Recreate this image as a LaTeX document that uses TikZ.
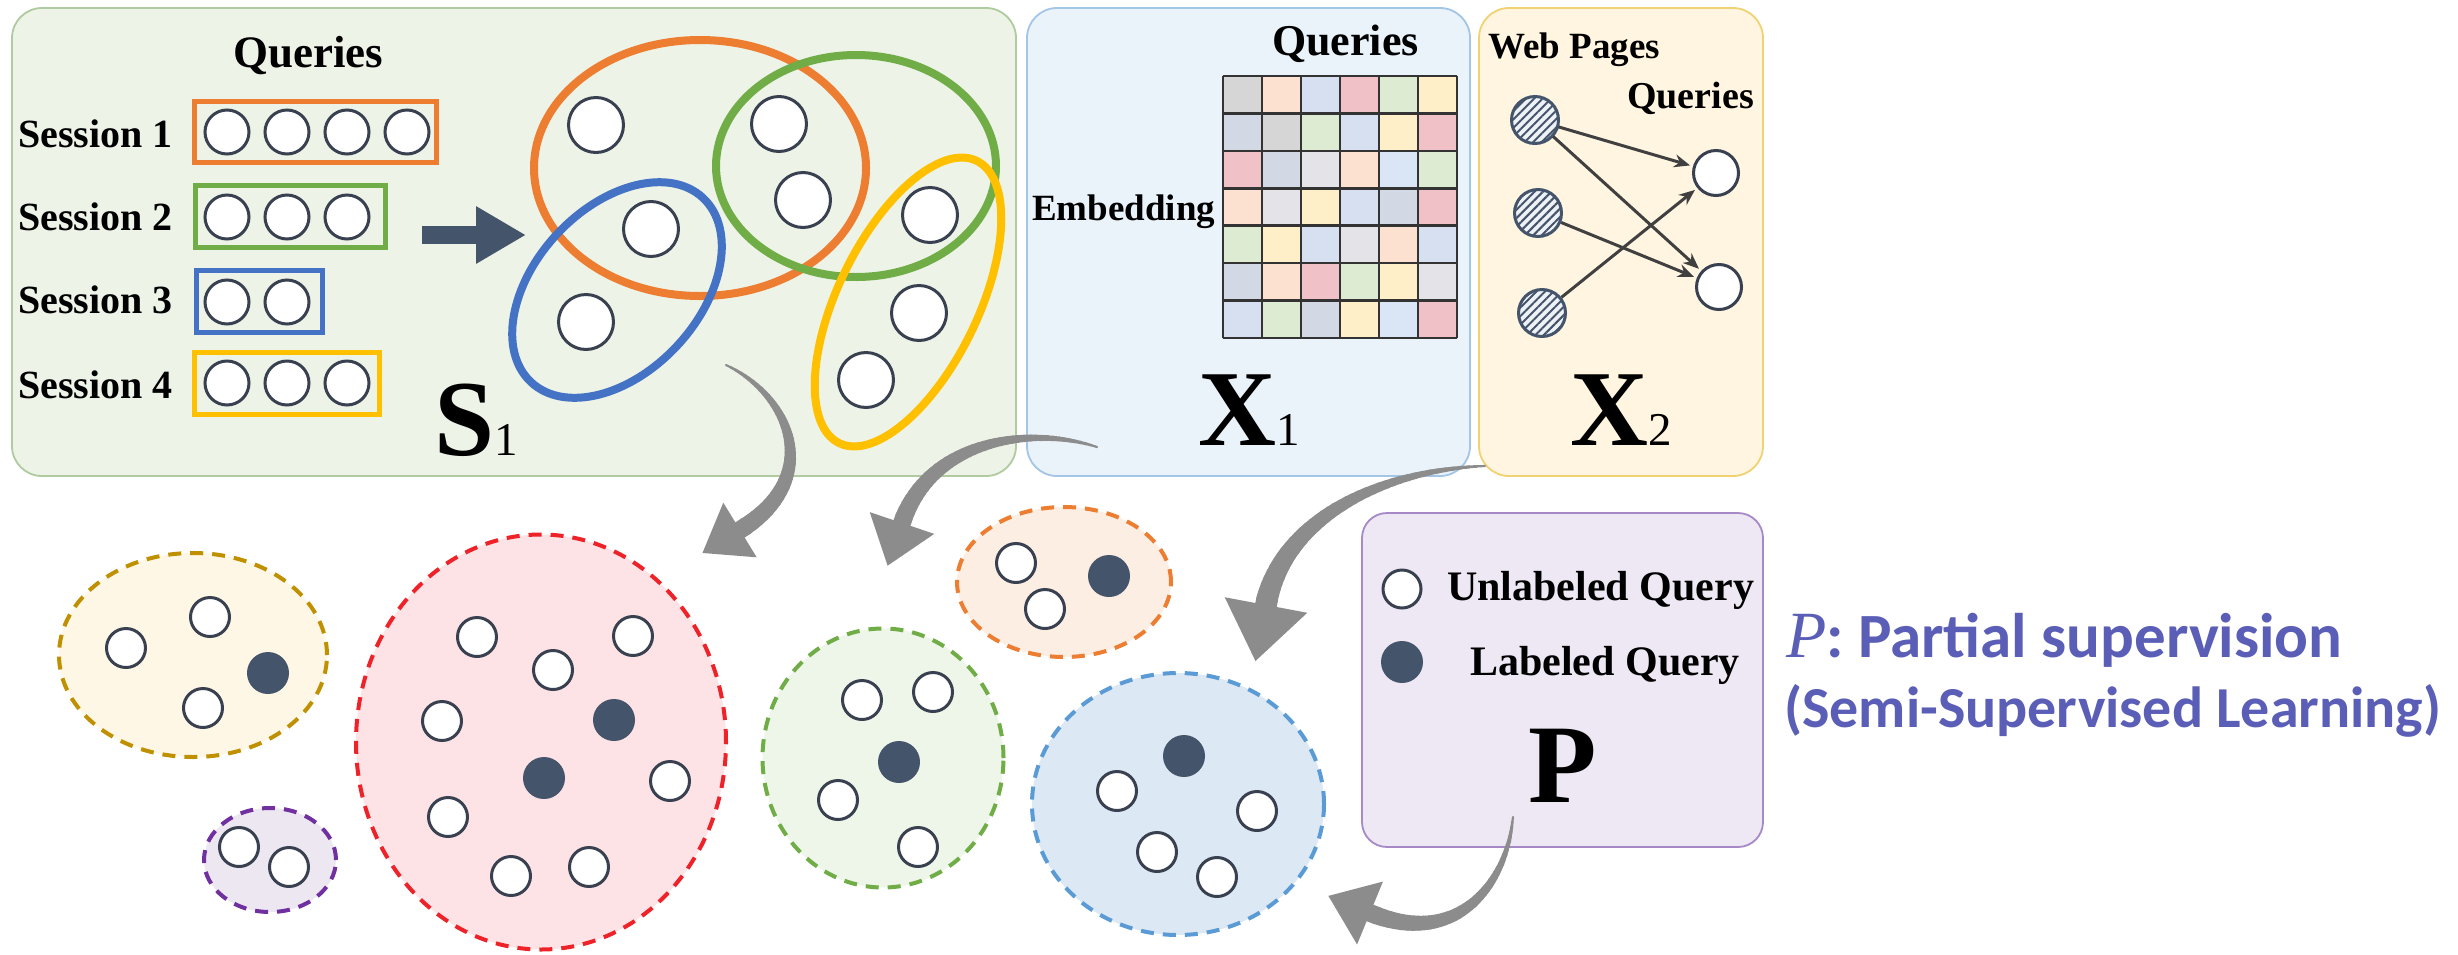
\documentclass[tikz,border=0pt]{standalone}
\usepackage{fontspec}
\newfontfamily\tms{Liberation Serif}
\newfontfamily\carl{Carlito}
\usetikzlibrary{calc,shapes.geometric,patterns.meta,arrows.meta}

\definecolor{qline}{HTML}{394150}
\definecolor{qdark}{HTML}{44546A}
\definecolor{arrowgray}{HTML}{8C8C8C}
\definecolor{linkgray}{HTML}{404040}
\definecolor{hatchbg}{HTML}{EEF1F6}
\definecolor{noteblue}{HTML}{5A5EB6}
% session / overlap colours
\definecolor{sOrange}{HTML}{ED7D31}
\definecolor{sGreen}{HTML}{70AD47}
\definecolor{sBlue}{HTML}{4472C4}
\definecolor{sYellow}{HTML}{FFC000}
% panels
\definecolor{sFill}{HTML}{EEF3E8}
\definecolor{sLine}{HTML}{AFCB9F}
\definecolor{xaFill}{HTML}{EAF2FA}
\definecolor{xaLine}{HTML}{A3C5E6}
\definecolor{xbFill}{HTML}{FFF5E1}
\definecolor{xbLine}{HTML}{F0D272}
\definecolor{pFill}{HTML}{EEE7F4}
\definecolor{pLine}{HTML}{A689C6}
% clusters
\definecolor{kOlive}{HTML}{BF9000}
\definecolor{kOliveF}{HTML}{FFF7E5}
\definecolor{kPurple}{HTML}{7030A0}
\definecolor{kPurpleF}{HTML}{ECE7F1}
\definecolor{kRed}{HTML}{EE2229}
\definecolor{kRedF}{HTML}{FDE3E5}
\definecolor{kGreen}{HTML}{70AD47}
\definecolor{kGreenF}{HTML}{EEF5E9}
\definecolor{kOrange}{HTML}{ED7D31}
\definecolor{kOrangeF}{HTML}{FCEEE3}
\definecolor{kBlue}{HTML}{5B9BD5}
\definecolor{kBlueF}{HTML}{DDE8F5}
% embedding matrix cells
\definecolor{mGray}{HTML}{D6D6D6}
\definecolor{mPeach}{HTML}{FCE1D0}
\definecolor{mBlue}{HTML}{D6E0F1}
\definecolor{mPink}{HTML}{F0C2C8}
\definecolor{mGreen}{HTML}{DDEBD3}
\definecolor{mYellow}{HTML}{FFEFC9}
\definecolor{mSlate}{HTML}{D2D9E4}
\definecolor{mLight}{HTML}{E3E3E8}
\definecolor{mSky}{HTML}{DAE6F5}

\newcommand\fsz[1]{\fontsize{#1}{#1}\selectfont}

% thick gray curved arrow that widens from start to end
% #1 start, #2 #3 controls, #4 end of shaft, #5 start width, #6 end width,
% #7 head length, #8 half head width
\newcommand\taper[8]{%
  \foreach \i in {1,...,40}{%
    \pgfmathsetmacro\tA{(\i-1)/40}%
    \pgfmathsetmacro\tB{\i/40}%
    \pgfmathsetmacro\fA{(1-\tA)^3}%
    \pgfmathsetmacro\fB{3*(1-\tA)^2*\tA}%
    \pgfmathsetmacro\fC{3*(1-\tA)*\tA^2}%
    \pgfmathsetmacro\fD{\tA^3}%
    \pgfmathsetmacro\gA{(1-\tB)^3}%
    \pgfmathsetmacro\gB{3*(1-\tB)^2*\tB}%
    \pgfmathsetmacro\gC{3*(1-\tB)*\tB^2}%
    \pgfmathsetmacro\gD{\tB^3}%
    \pgfmathsetmacro\segw{#5+(#6-#5)*(\i-0.5)/40}%
    \draw[line width=\segw pt, arrowgray, line cap=round]
      ($\fA*(#1)+\fB*(#2)+\fC*(#3)+\fD*(#4)$) --
      ($\gA*(#1)+\gB*(#2)+\gC*(#3)+\gD*(#4)$);
  }%
  \fill[arrowgray] ($(#4)!#7!180:(#3)$) -- ($(#4)!#8!90:(#3)$)
    -- ($(#4)!#8!-90:(#3)$) -- cycle;
}

\begin{document}
\begin{tikzpicture}[x=1pt, y=-1pt,
  panel/.style={draw, line width=1.8pt, rounded corners=30pt, inner sep=0pt},
  qw/.style={circle, draw=qline, line width=3pt, fill=white, inner sep=0pt},
  qd/.style={circle, draw=qdark, line width=3pt, fill=qdark, inner sep=0pt},
  sbox/.style={draw, line width=5pt, inner sep=0pt, minimum height=62pt},
  bigell/.style={line width=8pt},
  cluster/.style={ellipse, line width=4pt, dash pattern=on 13pt off 9pt, inner sep=0pt},
  lbl/.style={inner sep=0pt, text=black},
  hatched/.style={circle, draw=qdark, line width=3pt, inner sep=0pt, minimum size=47pt,
    preaction={fill=hatchbg},
    pattern={Lines[angle=45,distance=6pt,line width=2pt]}, pattern color=qdark},
  link/.style={draw=linkgray, line width=3pt, -{Stealth[length=16pt,width=13pt]}, shorten >=3pt},
]
\fill[white] (0,0) rectangle (2458,954);
\path[use as bounding box] (0,0) rectangle (2458,954);

% ---------------- panels ----------------
\node[panel, draw=sLine, fill=sFill, minimum width=1004pt, minimum height=468pt] (S1) at (514,242) {};
\node[panel, draw=xaLine, fill=xaFill, minimum width=443pt, minimum height=468pt] (X1) at (1248.5,242) {};
\node[panel, draw=xbLine, fill=xbFill, minimum width=284pt, minimum height=468pt] (X2) at (1621,242) {};
\node[panel, draw=pLine, fill=pFill, rounded corners=25pt, minimum width=401pt, minimum height=334pt] (Pbox) at (1562.5,680) {};

% ---------------- S1: sessions ----------------
\node[lbl, anchor=base, font=\tms\bfseries\fsz{45}] (s1q) at (308,67) {Queries};
\node[lbl, anchor=base west, font=\tms\bfseries\fsz{40}] (ses1) at (18,147) {Session 1};
\node[lbl, anchor=base west, font=\tms\bfseries\fsz{40}] (ses2) at (18,230) {Session 2};
\node[lbl, anchor=base west, font=\tms\bfseries\fsz{40}] (ses3) at (18,313) {Session 3};
\node[lbl, anchor=base west, font=\tms\bfseries\fsz{40}] (ses4) at (18,398) {Session 4};

\node[sbox, draw=sOrange, minimum width=242pt, minimum height=61pt] (box1) at (315.5,132) {};
\node[sbox, draw=sGreen, minimum width=190pt] (box2) at (290.5,216.5) {};
\node[sbox, draw=sBlue, minimum width=126pt] (box3) at (259.5,301.5) {};
\node[sbox, draw=sYellow, minimum width=185pt] (box4) at (287,383.5) {};

\foreach \k in {0,...,3} \node[qw, minimum size=44pt] (b1q\k) at ({227+60*\k},132) {};
\foreach \k in {0,...,2} \node[qw, minimum size=44pt] (b2q\k) at ({227+60*\k},217) {};
\foreach \k in {0,...,1} \node[qw, minimum size=44pt] (b3q\k) at ({227+60*\k},302) {};
\foreach \k in {0,...,2} \node[qw, minimum size=44pt] (b4q\k) at ({227+60*\k},383) {};

% block arrow towards the overlapping groups
\coordinate (da-s) at (422,235);
\coordinate (da-e) at (526,235);
\draw[qdark, line width=18pt, -{Triangle[length=50pt,width=54pt]}] (da-s) -- (da-e);

% overlapping session groups
\draw[bigell, sOrange] (700,168) ellipse [x radius=166pt, y radius=128pt];
\draw[bigell, sGreen] (856,166) ellipse [x radius=140pt, y radius=111pt];
\draw[bigell, sBlue, rotate around={47:(617,290)}] (617,290) ellipse [x radius=126pt, y radius=82pt];
\draw[bigell, sYellow, rotate around={64:(908,302)}] (908,302) ellipse [x radius=157pt, y radius=70pt];

\node[qw, minimum size=55pt] (g1) at (596,125) {};
\node[qw, minimum size=55pt] (g2) at (779,124) {};
\node[qw, minimum size=55pt] (g3) at (803,200) {};
\node[qw, minimum size=55pt] (g4) at (651,229) {};
\node[qw, minimum size=55pt] (g5) at (930,215) {};
\node[qw, minimum size=55pt] (g6) at (586,322) {};
\node[qw, minimum size=55pt] (g7) at (919,313) {};
\node[qw, minimum size=55pt] (g8) at (866,380) {};

\node[lbl, anchor=base west] (s1lab) at (434,455) {{\tms\bfseries\fsz{108}S}{\tms\fsz{47}1}};

% ---------------- X1: embedding matrix ----------------
\node[lbl, anchor=base, font=\tms\bfseries\fsz{44}] (x1q) at (1345.5,55) {Queries};
\node[lbl, anchor=base west, font=\tms\bfseries\fsz{37}] (x1e) at (1032,220) {Embedding};
\foreach \cols [count=\r from 0] in {
  {mGray,mPeach,mBlue,mPink,mGreen,mYellow},
  {mSlate,mGray,mGreen,mBlue,mYellow,mPink},
  {mPink,mSlate,mLight,mPeach,mSky,mGreen},
  {mPeach,mLight,mYellow,mBlue,mSlate,mPink},
  {mGreen,mYellow,mBlue,mLight,mPeach,mBlue},
  {mSlate,mPeach,mPink,mGreen,mYellow,mLight},
  {mBlue,mGreen,mSlate,mYellow,mSky,mPink}}{
  \foreach \cc [count=\k from 0] in \cols {
    \fill[\cc] ({1223+39*\k},{76+37.43*\r}) rectangle ++(39,37.43);
  }
}
\foreach \k in {0,...,6} \draw[line width=2.5pt, black!80] ({1223+39*\k},76) -- ++(0,262);
\foreach \r in {0,...,7} \draw[line width=2.5pt, black!80] (1223,{76+37.43*\r}) -- ++(234,0);
\node[lbl, anchor=base west] (x1lab) at (1198,445) {{\tms\bfseries\fsz{108}X}{\tms\fsz{47}1}};

% ---------------- X2: click graph ----------------
\node[lbl, anchor=base west, font=\tms\bfseries\fsz{37}] (x2w) at (1488,58) {Web Pages};
\node[lbl, anchor=base west, font=\tms\bfseries\fsz{38}] (x2q) at (1627,108) {Queries};
\node[hatched] (h1) at (1535,120) {};
\node[hatched] (h2) at (1538,213) {};
\node[hatched] (h3) at (1542,313) {};
\node[qw, minimum size=45pt] (w1) at (1716,173) {};
\node[qw, minimum size=45pt] (w2) at (1719,287) {};
\draw[link] (h1) -- (w1);
\draw[link] (h1) -- (w2);
\draw[link] (h2) -- (w2);
\draw[link] (h3) -- (w1);
\node[lbl, anchor=base west] (x2lab) at (1570,445) {{\tms\bfseries\fsz{108}X}{\tms\fsz{47}2}};

% ---------------- P: legend ----------------
\node[qw, minimum size=38pt] (legw) at (1402,589) {};
\node[qd, minimum size=39pt] (legd) at (1402,662) {};
\node[lbl, anchor=base west, font=\tms\bfseries\fsz{42}] (legwt) at (1447,600) {Unlabeled Query};
\node[lbl, anchor=base west, font=\tms\bfseries\fsz{42}] (legdt) at (1470,675) {Labeled Query};
\node[lbl, anchor=base, font=\tms\bfseries\fsz{112}] (plab) at (1563,802) {P};

% ---------------- clusters ----------------
\node[cluster, draw=kOlive, fill=kOliveF, minimum width=268pt, minimum height=204pt] (cOlive) at (193,655) {};
\node[cluster, draw=kPurple, fill=kPurpleF, minimum width=132pt, minimum height=104pt] (cPurple) at (270,860) {};
\node[cluster, draw=kRed, fill=kRedF, minimum width=370pt, minimum height=415pt] (cRed) at (541,742) {};
\node[cluster, draw=kGreen, fill=kGreenF, minimum width=241pt, minimum height=259pt] (cGreen) at (883,758) {};
\node[cluster, draw=kOrange, fill=kOrangeF, minimum width=214pt, minimum height=150pt] (cOrange) at (1064,582) {};
\node[cluster, draw=kBlue, fill=kBlueF, minimum width=292pt, minimum height=262pt] (cBlue) at (1178,804) {};

\tikzset{cq/.style={qw, minimum size=39pt}, cd/.style={qd, minimum size=39pt}}
\node[cq] (o1) at (210,617) {};
\node[cq] (o2) at (126,648) {};
\node[cd] (o3) at (268,673) {};
\node[cq] (o4) at (203,708) {};

\node[cq] (u1) at (239,847) {};
\node[cq] (u2) at (289,867) {};

\node[cq] (r1) at (477,637) {};
\node[cq] (r2) at (633,636) {};
\node[cq] (r3) at (553,670) {};
\node[cq] (r4) at (442,721) {};
\node[cd] (r5) at (614,720) {};
\node[cd] (r6) at (544,778) {};
\node[cq] (r7) at (670,781) {};
\node[cq] (r8) at (448,817) {};
\node[cq] (r9) at (511,876) {};
\node[cq] (r10) at (589,867) {};

\node[cq] (n1) at (862,700) {};
\node[cq] (n2) at (933,692) {};
\node[cd] (n3) at (899,762) {};
\node[cq] (n4) at (838,800) {};
\node[cq] (n5) at (918,847) {};

\node[cq] (e1) at (1016,563) {};
\node[cq] (e2) at (1045,609) {};
\node[cd] (e3) at (1109,576) {};

\node[cd] (b1) at (1184,756) {};
\node[cq] (b2) at (1117,791) {};
\node[cq] (b3) at (1257,811) {};
\node[cq] (b4) at (1157,852) {};
\node[cq] (b5) at (1217,877) {};

% ---------------- note ----------------
\node[lbl, anchor=base west, text=noteblue] (note1) at (1786,657)
  {{\tms\itshape\fsz{66}P}{\carl\bfseries\fsz{63}: Partial supervision}};
\node[lbl, anchor=base west, text=noteblue] (note2) at (1784,727)
  {\carl\bfseries\fsz{58}(Semi-Supervised Learning)};

% ---------------- curved gray arrows ----------------
\coordinate (a1s) at (726,365); \coordinate (a1c) at (790,395);
\coordinate (a1d) at (825,478); \coordinate (a1e) at (740,530);
\taper{a1s}{a1c}{a1d}{a1e}{2}{18}{44pt}{32pt}

\coordinate (a2s) at (1097,447); \coordinate (a2c) at (1030,425);
\coordinate (a2d) at (930,440); \coordinate (a2e) at (902,523);
\taper{a2s}{a2c}{a2d}{a2e}{2}{18}{45pt}{34pt}

\coordinate (a3s) at (1485,466); \coordinate (a3c) at (1380,470);
\coordinate (a3d) at (1282,520); \coordinate (a3e) at (1266,605);
\taper{a3s}{a3c}{a3d}{a3e}{2}{22}{57pt}{42pt}

\coordinate (a4s) at (1513,817); \coordinate (a4c) at (1508,880);
\coordinate (a4d) at (1460,950); \coordinate (a4e) at (1370,913);
\taper{a4s}{a4c}{a4d}{a4e}{2}{18}{45pt}{34pt}
\end{tikzpicture}
\end{document}
